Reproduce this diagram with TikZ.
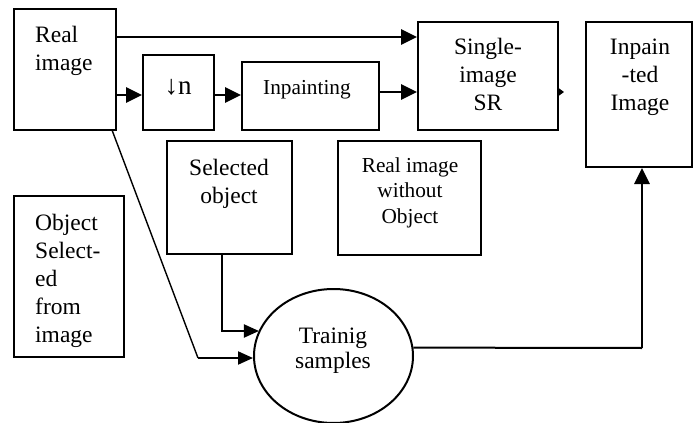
\documentclass[tikz,border=0pt]{standalone}
\usepackage{fontspec}
\setmainfont{Liberation Serif}
\usetikzlibrary{arrows.meta,shapes.geometric}
\tikzset{
  box/.style={draw, line width=2pt, rectangle, inner sep=0pt},
  big/.style={font=\fontsize{23.5}{27.7}\selectfont, inner sep=0pt},
  small/.style={font=\fontsize{21.3}{25.5}\selectfont, inner sep=0pt},
  arr/.style={line width=2.8pt, -{Triangle[length=16pt,width=15pt]}},
  thinarr/.style={line width=2pt, -{Triangle[length=15pt,width=13pt]}},
}
\begin{document}
\begin{tikzpicture}[x=1pt, y=-1pt]
\useasboundingbox (0,0) rectangle (697,423);
% boxes
\node[box, minimum width=102pt, minimum height=121pt] (real) at (65,69.5) {};
\node[box, minimum width=71pt, minimum height=75pt] (dn) at (178.5,92.5) {};
\node[box, minimum width=137pt, minimum height=68pt] (inp) at (310.5,96) {};
\node[box, minimum width=140pt, minimum height=108pt] (sr) at (488,76) {};
\node[box, minimum width=106pt, minimum height=145pt] (inpd) at (639,94.5) {};
\node[box, minimum width=125pt, minimum height=113pt] (sel) at (229.5,197.5) {};
\node[box, minimum width=143pt, minimum height=114pt] (rwo) at (409.5,198) {};
\node[box, minimum width=110pt, minimum height=161pt] (osel) at (69,276.5) {};
\node[draw, line width=2pt, ellipse, minimum width=159pt, minimum height=134pt, inner sep=0pt] (tr) at (333.5,356) {};
% texts (base anchor = baseline of last line)
\node[big, anchor=base west, align=left] (realT) at (35,70) {Real\\image};
\node[font=\fontsize{27}{30}\selectfont, inner sep=0pt, anchor=base] (dnT) at (178,94) {↓n};
\node[small, anchor=base] (inpT) at (307,94) {Inpainting};
\node[big, anchor=base, align=center] (srT) at (488,110) {Single-\\image\\SR};
\node[big, anchor=base, align=center] (inpdT) at (640,110) {Inpain\\-ted\\Image};
\node[big, anchor=base, align=center] (selT) at (229,203) {Selected\\object};
\node[small, anchor=base, align=center] (rwoT) at (410,223) {Real image\\without\\Object};
\node[font=\fontsize{23.5}{27.8}\selectfont, inner sep=0pt, anchor=base west, align=left] (oselT) at (35,342) {Object\\Select-\\ed\\from\\image};
\node[font=\fontsize{23.5}{25}\selectfont, inner sep=0pt, anchor=base, align=center] (trT) at (333,368) {Trainig\\samples};
% helper coordinates
\coordinate (yA) at (0,37);
\coordinate (yB) at (0,95);
\coordinate (yC) at (0,92);
\coordinate (tipend) at (564,92);
\coordinate (startD) at (112,130);
\coordinate (bend1) at (198,358);
\coordinate (bend2) at (222,331);
\coordinate (bend3) at (642,348);
% connectors
\draw[arr] (real.east |- yA) -- (sr.west |- yA);
\draw[arr] (real.east |- yB) -- (dn.west |- yB);
\draw[arr] (dn.east |- yB) -- (inp.west |- yB);
\draw[arr] (inp.east |- yC) -- (sr.west |- yC);
\draw[line width=1pt, -{Triangle[length=5pt,width=7pt]}] (sr.east |- yC) -- (tipend);
\draw[line width=1.4pt] (startD) -- (bend1);
\draw[thinarr] (bend1) -- (bend1 -| tr.west);
\draw[thinarr] (sel.south -| bend2) -- (bend2) -- (bend2 -| tr.161);
\draw[line width=2pt] (tr.6) -- (bend3);
\draw[arr] (bend3) -- (bend3 |- inpd.south);
\end{tikzpicture}
\end{document}
